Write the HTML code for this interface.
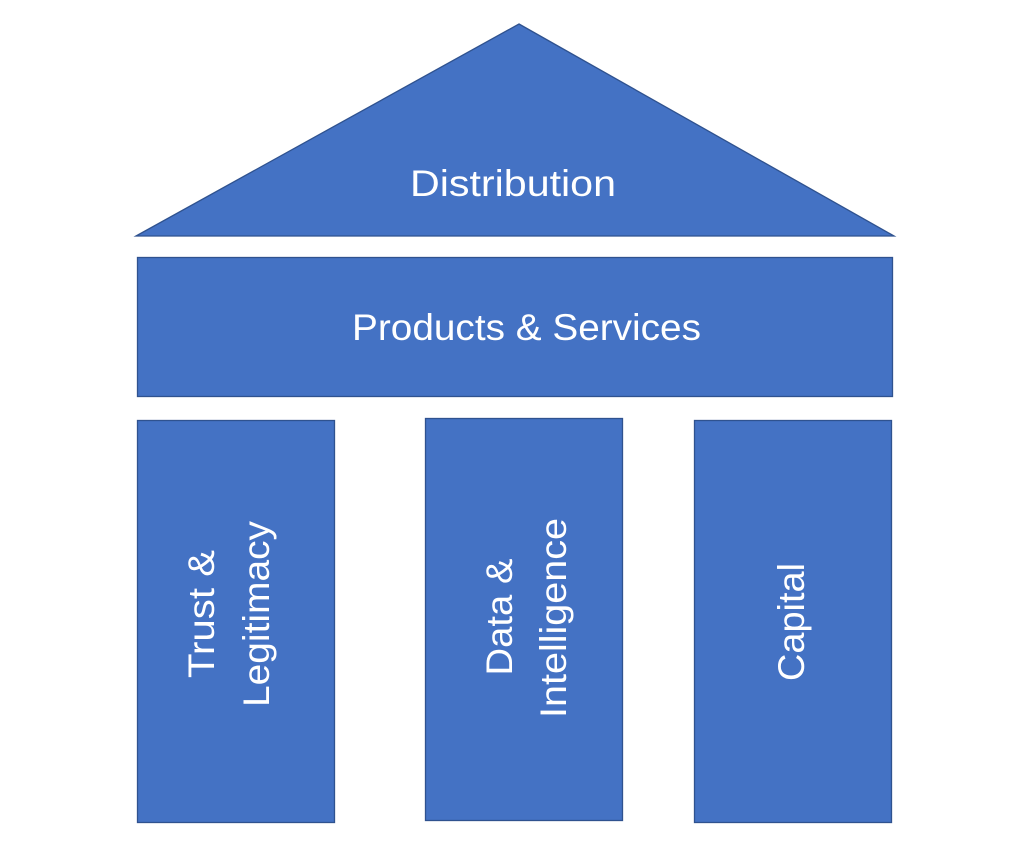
<!DOCTYPE html>
<html><head><style>html,body{margin:0;padding:0;background:#fff;}svg{display:block;}</style></head>
<body>
<svg width="1024" height="851" xmlns="http://www.w3.org/2000/svg" font-family="Liberation Sans, sans-serif" fill="#fff">
<g fill="#4472C4" stroke="#2F528F" stroke-width="1.3">
<polygon points="519,24 894,236 136,236"/>
<rect x="137.5" y="257.5" width="755" height="139"/>
<rect x="137.5" y="420.5" width="197" height="402"/>
<rect x="425.5" y="418.5" width="197" height="402"/>
<rect x="694.5" y="420.5" width="197" height="402"/>
</g>
<g font-size="37" text-anchor="middle" fill="#fff">
<text x="513" y="196" textLength="206" lengthAdjust="spacingAndGlyphs">Distribution</text>
<text x="526.5" y="340" textLength="349" lengthAdjust="spacingAndGlyphs">Products &amp; Services</text>
<text transform="translate(214,614) rotate(-90)" textLength="128" lengthAdjust="spacingAndGlyphs">Trust &amp;</text>
<text transform="translate(269,614) rotate(-90)" textLength="186" lengthAdjust="spacingAndGlyphs">Legitimacy</text>
<text transform="translate(512,617) rotate(-90)" textLength="117" lengthAdjust="spacingAndGlyphs">Data &amp;</text>
<text transform="translate(566,618) rotate(-90)" textLength="200" lengthAdjust="spacingAndGlyphs">Intelligence</text>
<text transform="translate(804,622) rotate(-90)" textLength="118" lengthAdjust="spacingAndGlyphs">Capital</text>
</g>
</svg>
</body></html>
